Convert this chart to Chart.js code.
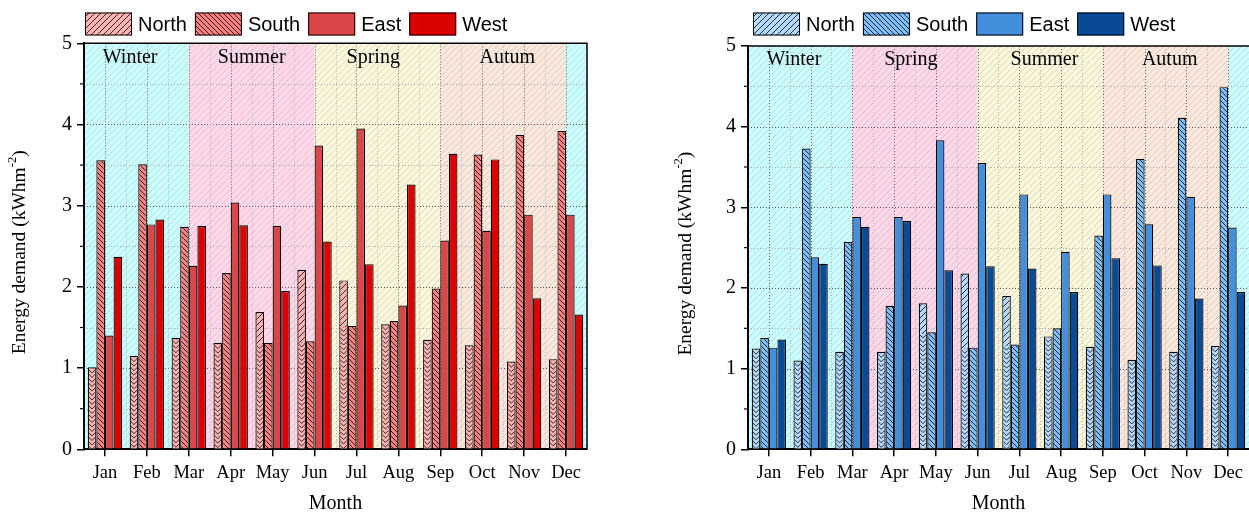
<!DOCTYPE html>
<html>
<head>
<meta charset="utf-8">
<script src="https://cdn.jsdelivr.net/npm/chart.js@4.4.0/dist/chart.umd.min.js"></script>
<style>
    body { margin: 0; background: #fff; }
    #izq { position: absolute; left: 0; top: 0; }
    #der { position: absolute; left: 620px; top: 0; }
</style>
</head>
<body>
<canvas id="izq" width="620" height="513"></canvas>
<canvas id="der" width="629" height="513"></canvas>
<script>
const meses = ['Jan', 'Feb', 'Mar', 'Apr', 'May', 'Jun', 'Jul', 'Aug', 'Sep', 'Oct', 'Nov', 'Dec'];
const orientaciones = ['North', 'South', 'East', 'West'];
const ticksY = [0, 1, 2, 3, 4, 5];

// grafico rojo (izquierda)
const rojoNorth = [1.01, 1.15, 1.37, 1.31, 1.69, 2.21, 2.08, 1.54, 1.35, 1.28, 1.08, 1.11];
const rojoSouth = [3.56, 3.51, 2.74, 2.17, 1.31, 1.33, 1.52, 1.58, 1.98, 3.63, 3.87, 3.92];
const rojoEast  = [1.40, 2.77, 2.26, 3.04, 2.75, 3.74, 3.95, 1.77, 2.57, 2.69, 2.89, 2.89];
const rojoWest  = [2.37, 2.83, 2.75, 2.76, 1.95, 2.56, 2.28, 3.26, 3.64, 3.57, 1.86, 1.66];
const estacionesRojo = ['Winter', 'Summer', 'Spring', 'Autum'];

// grafico azul (derecha)
const azulNorth = [1.25, 1.10, 1.21, 1.21, 1.81, 2.18, 1.90, 1.40, 1.27, 1.11, 1.21, 1.28];
const azulSouth = [1.38, 3.73, 2.57, 1.78, 1.45, 1.26, 1.30, 1.50, 2.65, 3.60, 4.11, 4.49];
const azulEast  = [1.26, 2.38, 2.88, 2.88, 3.83, 3.55, 3.16, 2.45, 3.16, 2.79, 3.13, 2.75];
const azulWest  = [1.36, 2.30, 2.76, 2.83, 2.22, 2.27, 2.24, 1.95, 2.37, 2.28, 1.87, 1.95];
const estacionesAzul = ['Winter', 'Spring', 'Summer', 'Autum'];

const serif = '"Liberation Serif", "Times New Roman", serif';
const sans = '"Liberation Sans", Arial, sans-serif';

// colores de las franjas, en orden de aparicion
const coloresFranja = ['#ccffff', '#ffd9ea', '#fbf8dc', '#fbe9dd'];

// rayado diagonal con lineas negras
function rayado(ctx, fondo, dir, paso) {
    const c = document.createElement('canvas');
    c.width = paso; c.height = paso;
    const g = c.getContext('2d');
    g.fillStyle = fondo;
    g.fillRect(0, 0, paso, paso);
    g.strokeStyle = '#000';
    g.lineWidth = 0.8;
    g.beginPath();
    if (dir === '/') {
        g.moveTo(-1, paso + 1); g.lineTo(paso + 1, -1);
        g.moveTo(-1, 1); g.lineTo(1, -1);
        g.moveTo(paso - 1, paso + 1); g.lineTo(paso + 1, paso - 1);
    } else {
        g.moveTo(-1, -1); g.lineTo(paso + 1, paso + 1);
        g.moveTo(paso - 1, -1); g.lineTo(paso + 1, 1);
        g.moveTo(-1, paso - 1); g.lineTo(1, paso + 1);
    }
    g.stroke();
    return ctx.createPattern(c, 'repeat');
}

// textura fina de puntos
function textura(ctx, fondo, punto) {
    const c = document.createElement('canvas');
    c.width = 2; c.height = 2;
    const g = c.getContext('2d');
    g.fillStyle = fondo;
    g.fillRect(0, 0, 2, 2);
    g.fillStyle = punto;
    g.fillRect(0, 0, 1, 1);
    g.fillRect(1, 1, 1, 1);
    return ctx.createPattern(c, 'repeat');
}

const fondoPlugin = {
    id: 'fondo',
    beforeDraw(chart, args, opts) {
        const { ctx, chartArea: a, scales: { x, y } } = chart;
        const paso = x.getPixelForValue(1) - x.getPixelForValue(0);
        const px = i => x.getPixelForValue(0) + i * paso;
        ctx.save();
        ctx.beginPath();
        ctx.rect(a.left, a.top, a.width, a.height);
        ctx.clip();

        opts.bandas.forEach(b => {
            ctx.fillStyle = coloresFranja[b.color];
            ctx.fillRect(px(b.desde), a.top, px(b.hasta) - px(b.desde), a.height);
        });

        // rayado suave del fondo
        ctx.strokeStyle = 'rgba(90, 90, 90, 0.22)';
        ctx.lineWidth = 1;
        ctx.beginPath();
        for (let k = a.left - a.height; k < a.right; k += 6.5) {
            ctx.moveTo(k, a.bottom);
            ctx.lineTo(k + a.height, a.top);
        }
        ctx.stroke();

        // grilla punteada
        ctx.setLineDash([1, 2]);
        for (let v = 0.5; v < 5; v += 0.5) {
            const yy = Math.round(y.getPixelForValue(v)) + 0.5;
            ctx.strokeStyle = Number.isInteger(v) ? '#555' : '#aaa';
            ctx.beginPath(); ctx.moveTo(a.left, yy); ctx.lineTo(a.right, yy); ctx.stroke();
        }
        for (let i = 0; i < meses.length; i++) {
            let xx = Math.round(px(i)) + 0.5;
            ctx.strokeStyle = '#666';
            ctx.beginPath(); ctx.moveTo(xx, a.top); ctx.lineTo(xx, a.bottom); ctx.stroke();
            xx = Math.round(px(i + 0.5)) + 0.5;
            ctx.strokeStyle = '#b5b5b5';
            ctx.beginPath(); ctx.moveTo(xx, a.top); ctx.lineTo(xx, a.bottom); ctx.stroke();
        }
        ctx.setLineDash([]);

        // nombres de las estaciones
        ctx.fillStyle = '#000';
        ctx.font = '20px ' + serif;
        ctx.textAlign = 'center';
        ctx.textBaseline = 'middle';
        opts.bandas.forEach(b => {
            if (b.texto !== undefined) ctx.fillText(b.estacion, px(b.texto), a.top + 14);
        });
        ctx.restore();
    },
    afterDatasetsDraw(chart, args, opts) {
        // la parte baja de las barras North, hasta la altura de South, va en zigzag
        const { ctx } = chart;
        const norte = chart.getDatasetMeta(0).data;
        const sur = chart.getDatasetMeta(1).data;
        ctx.save();
        ctx.strokeStyle = '#000';
        ctx.lineWidth = 0.8;
        norte.forEach((bar, i) => {
            const arriba = Math.max(bar.y, sur[i].y) + 1.2;
            const izq = bar.x - bar.width / 2 + 1.2, der = bar.x + bar.width / 2 - 1.2;
            const medio = (izq + der) / 2, alto = (der - izq) / 2;
            ctx.save();
            ctx.beginPath();
            ctx.rect(izq, arriba, der - izq, bar.base - arriba);
            ctx.clip();
            ctx.fillStyle = opts.colorNorte;
            ctx.fillRect(izq, arriba, der - izq, bar.base - arriba);
            ctx.beginPath();
            for (let k = arriba - alto; k < bar.base + alto; k += 4.5) {
                ctx.moveTo(izq - 1, k - 1);
                ctx.lineTo(medio, k + alto);
                ctx.lineTo(der + 1, k - 1);
            }
            ctx.stroke();
            ctx.restore();
        });
        ctx.restore();
    },
    afterDraw(chart, args, opts) {
        const { ctx, chartArea: a, scales: { y } } = chart;
        ctx.save();
        // marco superior y derecho
        ctx.strokeStyle = '#000';
        ctx.lineWidth = 1.5;
        ctx.beginPath();
        ctx.moveTo(a.left, a.top);
        ctx.lineTo(a.right, a.top);
        if (opts.marcoDerecho) ctx.lineTo(a.right, a.bottom);
        ctx.stroke();

        // ticks menores del eje y
        ctx.lineWidth = 1.2;
        for (let v = 0.5; v < 5; v += 1) {
            const yy = y.getPixelForValue(v);
            ctx.beginPath(); ctx.moveTo(a.left - 4, yy); ctx.lineTo(a.left, yy); ctx.stroke();
        }

        // titulo del eje y con superindice
        ctx.fillStyle = '#000';
        ctx.textBaseline = 'middle';
        ctx.textAlign = 'left';
        ctx.translate(opts.tituloX, (a.top + a.bottom) / 2 + 6);
        ctx.rotate(-Math.PI / 2);
        const f1 = '19.5px ' + serif, f2 = '12.5px ' + serif;
        ctx.font = f1;
        const p1 = 'Energy demand (kWhm', p3 = ')';
        const w1 = ctx.measureText(p1).width, w3 = ctx.measureText(p3).width;
        ctx.font = f2;
        const w2 = ctx.measureText('-2').width;
        let xt = -(w1 + w2 + w3) / 2;
        ctx.font = f1; ctx.fillText(p1, xt, 0); xt += w1;
        ctx.font = f2; ctx.fillText('-2', xt, -7); xt += w2;
        ctx.font = f1; ctx.fillText(p3, xt, 0);
        ctx.restore();

        // leyenda
        ctx.save();
        let xl = opts.leyendaX;
        ctx.font = '20px ' + sans;
        ctx.textBaseline = 'middle';
        chart.data.datasets.forEach(ds => {
            ctx.fillStyle = ds.backgroundColor;
            ctx.fillRect(xl, 12.5, 47, 23);
            ctx.strokeStyle = '#000';
            ctx.lineWidth = 1;
            ctx.strokeRect(xl + 0.5, 13, 46, 22);
            ctx.fillStyle = '#000';
            ctx.fillText(ds.label, xl + 53, 25.5);
            xl += 53 + ctx.measureText(ds.label).width + 8;
        });
        ctx.restore();
    }
};

function crearGrafico(id, series, colores, bandas, cfg) {
    const canvas = document.getElementById(id);
    const ctx = canvas.getContext('2d');
    const rellenos = [
        rayado(ctx, colores[0], '/', 6),
        rayado(ctx, colores[1], '\\', 5),
        textura(ctx, colores[2], colores[4]),
        textura(ctx, colores[3], colores[5])
    ];

    const datasets = series.map((s, i) => ({
        label: orientaciones[i],
        data: s,
        backgroundColor: rellenos[i],
        borderColor: '#000',
        borderWidth: 1.2,
        categoryPercentage: 0.82,
        barPercentage: 1.0
    }));

    return new Chart(ctx, {
        type: 'bar',
        data: { labels: meses, datasets: datasets },
        plugins: [fondoPlugin],
        options: {
            responsive: false,
            animation: false,
            layout: { padding: { top: cfg.arriba, right: cfg.derecha, left: 0, bottom: 0 } },
            plugins: {
                legend: { display: false },
                tooltip: { enabled: false },
                fondo: {
                    bandas: bandas,
                    marcoDerecho: cfg.marcoDerecho,
                    tituloX: cfg.tituloX,
                    leyendaX: cfg.leyendaX,
                    colorNorte: colores[0]
                }
            },
            scales: {
                x: {
                    afterFit: s => { s.height = 63.7; },
                    grid: {
                        offset: false,
                        drawOnChartArea: false,
                        drawTicks: true,
                        tickLength: 7,
                        color: '#000',
                        lineWidth: 1.5
                    },
                    border: { display: true, color: '#000', width: 2 },
                    ticks: { color: '#000', padding: 6, font: { family: serif, size: 18.5 } },
                    title: {
                        display: true,
                        text: 'Month',
                        color: '#000',
                        padding: { top: 0, bottom: 0 },
                        font: { family: serif, size: 20, lineHeight: 0.9 }
                    }
                },
                y: {
                    min: 0,
                    max: 5,
                    afterFit: s => { s.width = cfg.anchoY; },
                    afterBuildTicks: s => { s.ticks = ticksY.map(v => ({ value: v })); },
                    grid: {
                        drawOnChartArea: false,
                        drawTicks: true,
                        tickLength: 7,
                        color: '#000',
                        lineWidth: 1.5
                    },
                    border: { display: true, color: '#000', width: 2 },
                    ticks: { color: '#000', padding: 5, font: { family: serif, size: 20 } }
                }
            }
        }
    });
}

crearGrafico('izq',
    [rojoNorth, rojoSouth, rojoEast, rojoWest],
    ['#ffb3b3', '#ff8080', '#e25252', '#e60000', '#d23c3c', '#d40000'],
    [
        { estacion: estacionesRojo[0], color: 0, desde: -0.5, hasta: 2, texto: 0.6 },
        { estacion: estacionesRojo[1], color: 1, desde: 2, hasta: 5, texto: 3.5 },
        { estacion: estacionesRojo[2], color: 2, desde: 5, hasta: 8, texto: 6.4 },
        { estacion: estacionesRojo[3], color: 3, desde: 8, hasta: 11, texto: 9.6 },
        { estacion: estacionesRojo[0], color: 0, desde: 11, hasta: 11.5 }
    ],
    { arriba: 43.3, derecha: 33, anchoY: 84, marcoDerecho: true, tituloX: 20, leyendaX: 85 }
);

crearGrafico('der',
    [azulNorth, azulSouth, azulEast, azulWest],
    ['#b5daff', '#80bfff', '#4a96e4', '#0a4f9c', '#3d88d6', '#084590'],
    [
        { estacion: estacionesAzul[0], color: 0, desde: -0.5, hasta: 2, texto: 0.6 },
        { estacion: estacionesAzul[1], color: 1, desde: 2, hasta: 5, texto: 3.4 },
        { estacion: estacionesAzul[2], color: 2, desde: 5, hasta: 8, texto: 6.6 },
        { estacion: estacionesAzul[3], color: 3, desde: 8, hasta: 11, texto: 9.6 },
        { estacion: estacionesAzul[0], color: 0, desde: 11, hasta: 11.5 }
    ],
    { arriba: 46, derecha: 0, anchoY: 128, marcoDerecho: false, tituloX: 66, leyendaX: 133 }
);
</script>
</body>
</html>
